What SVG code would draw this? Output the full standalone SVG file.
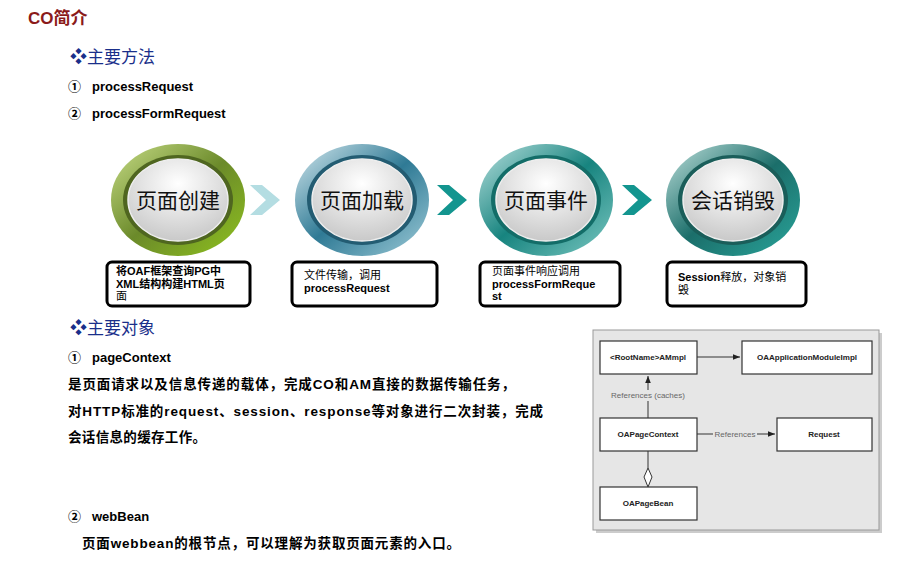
<svg xmlns="http://www.w3.org/2000/svg" width="923" height="577" viewBox="0 0 923 577">
<style>
.t{font-family:"Liberation Sans","Noto Sans CJK SC",sans-serif;font-weight:bold;fill:#000}
.h{font-family:"Liberation Sans","Noto Sans CJK SC",sans-serif;font-size:17px;fill:#1a2f8a}
.c{font-family:"Noto Sans CJK SC",sans-serif;font-size:21px;fill:#111;text-anchor:middle}
.box{fill:#fff;stroke:#000;stroke-width:3}
.u{fill:#fff;stroke:#333;stroke-width:1.2}
.ut{font-family:"Liberation Sans",sans-serif;font-size:8px;font-weight:bold;text-anchor:middle;fill:#222}
.ul{font-family:"Liberation Sans",sans-serif;font-size:8px;fill:#666}
.inner{fill:url(#gi);stroke:#eee;stroke-width:1.5}
</style>
<defs>
<linearGradient id="g1" x1="0" y1="0" x2="1" y2="1"><stop offset="0" stop-color="#c8dd88"/><stop offset="0.5" stop-color="#6b8a2a"/><stop offset="1" stop-color="#8fc21e"/></linearGradient>
<linearGradient id="g2" x1="0" y1="0" x2="1" y2="1"><stop offset="0" stop-color="#d4e8ee"/><stop offset="0.5" stop-color="#2f7a95"/><stop offset="1" stop-color="#9ecbd8"/></linearGradient>
<linearGradient id="g3" x1="0" y1="0" x2="1" y2="1"><stop offset="0" stop-color="#b8e0de"/><stop offset="0.5" stop-color="#17847f"/><stop offset="1" stop-color="#7cc8c2"/></linearGradient>
<linearGradient id="g4" x1="0" y1="0" x2="1" y2="1"><stop offset="0" stop-color="#bfe0dc"/><stop offset="0.5" stop-color="#1b6e6a"/><stop offset="1" stop-color="#2aa59b"/></linearGradient>
<radialGradient id="gi" cx="0.5" cy="0.3" r="0.7"><stop offset="0" stop-color="#ffffff"/><stop offset="1" stop-color="#c9c9c9"/></radialGradient>
<marker id="ar" viewBox="0 0 10 10" refX="10" refY="5" markerWidth="7" markerHeight="7" orient="auto"><path d="M0,1 L10,5 L0,9 z" fill="#222"/></marker>
</defs>
<text x="28" y="24" font-family="Liberation Sans,Noto Sans CJK SC,sans-serif" font-size="17" font-weight="bold" fill="#8b1a1a">CO简介</text>
<text x="70" y="63" class="h">❖主要方法</text>
<text y="91" class="t" font-size="13"><tspan x="68">①</tspan><tspan x="92">processRequest</tspan></text>
<text y="118" class="t" font-size="13"><tspan x="68">②</tspan><tspan x="92">processFormRequest</tspan></text>

<g id="n1"><ellipse cx="178" cy="200" rx="67" ry="56" fill="url(#g1)"/><ellipse cx="178" cy="200" rx="55" ry="45" fill="#4f6620"/><ellipse cx="178" cy="200" rx="50" ry="41" class="inner"/><text x="178" y="208" class="c">页面创建</text></g>
<g id="n2"><ellipse cx="362" cy="200" rx="67" ry="56" fill="url(#g2)"/><ellipse cx="362" cy="200" rx="55" ry="45" fill="#235c72"/><ellipse cx="362" cy="200" rx="50" ry="41" class="inner"/><text x="362" y="208" class="c">页面加载</text></g>
<g id="n3"><ellipse cx="546" cy="200" rx="67" ry="56" fill="url(#g3)"/><ellipse cx="546" cy="200" rx="55" ry="45" fill="#136d68"/><ellipse cx="546" cy="200" rx="50" ry="41" class="inner"/><text x="546" y="208" class="c">页面事件</text></g>
<g id="n4"><ellipse cx="733" cy="200" rx="67" ry="56" fill="url(#g4)"/><ellipse cx="733" cy="200" rx="55" ry="45" fill="#1a5e5a"/><ellipse cx="733" cy="200" rx="50" ry="41" class="inner"/><text x="733" y="208" class="c">会话销毁</text></g>
<g id="chev">
<path d="M250,185 L262,185 L280,200 L262,215 L250,215 L266,200 z" fill="#b4dde2"/>
<path d="M437,185 L449,185 L467,200 L449,215 L437,215 L453,200 z" fill="#13958f"/>
<path d="M622,185 L634,185 L652,200 L634,215 L622,215 L638,200 z" fill="#13958f"/>
</g>

<g id="b1"><rect x="107" y="262" width="143" height="44" rx="5" class="box"/>
<text class="t" font-size="11"><tspan x="116" y="275">将OAF框架查询PG中</tspan><tspan x="116" y="288">XML结构构建HTML页</tspan><tspan x="116" y="300" font-weight="normal">面</tspan></text></g>
<g id="b2"><rect x="292" y="262" width="145" height="44" rx="5" class="box"/>
<text class="t" font-size="11"><tspan x="304" y="279" font-weight="normal">文件传输，调用</tspan><tspan x="304" y="292">processRequest</tspan></text></g>
<g id="b3"><rect x="480" y="262" width="140" height="44" rx="5" class="box"/>
<text class="t" font-size="11"><tspan x="492" y="275" font-weight="normal">页面事件响应调用</tspan><tspan x="492" y="288">processFormReque</tspan><tspan x="492" y="300">st</tspan></text></g>
<g id="b4"><rect x="667" y="262" width="139" height="44" rx="5" class="box"/>
<text class="t" font-size="11"><tspan x="678" y="281">Session<tspan font-weight="normal">释放，对象销</tspan></tspan><tspan x="678" y="294" font-weight="normal">毁</tspan></text></g>

<text x="70" y="334" class="h">❖主要对象</text>
<text y="362" class="t" font-size="13"><tspan x="68">①</tspan><tspan x="92">pageContext</tspan></text>
<text x="68" y="389" class="t" font-size="13.5" textLength="447" lengthAdjust="spacing">是页面请求以及信息传递的载体，完成CO和AM直接的数据传输任务，</text>
<text x="68" y="416" class="t" font-size="13.5" textLength="475" lengthAdjust="spacing">对HTTP标准的request、session、response等对象进行二次封装，完成</text>
<text x="68" y="442" class="t" font-size="13.5" textLength="138" lengthAdjust="spacing">会话信息的缓存工作。</text>
<text y="521" class="t" font-size="13"><tspan x="68">②</tspan><tspan x="92">webBean</tspan></text>
<text x="82" y="548" class="t" font-size="13.5" textLength="378" lengthAdjust="spacing">页面webbean的根节点，可以理解为获取页面元素的入口。</text>

<rect x="596" y="333" width="286" height="200" fill="#999" opacity="0.5"/>
<rect x="593" y="330" width="286" height="200" fill="#e6e6e6" stroke="#999"/>
<g id="conn">
<line x1="697" y1="357" x2="740" y2="357" stroke="#333" marker-end="url(#ar)"/>
<line x1="648" y1="418" x2="648" y2="376" stroke="#333" marker-end="url(#ar)"/>
<rect x="606" y="390" width="84" height="11" fill="#e6e6e6"/>
<text x="648" y="398" class="ul" text-anchor="middle">References (caches)</text>
<line x1="697" y1="434" x2="775" y2="434" stroke="#333" marker-end="url(#ar)"/>
<rect x="713" y="428" width="44" height="11" fill="#e6e6e6"/>
<text x="735" y="437" class="ul" text-anchor="middle">References</text>
<line x1="648" y1="451" x2="648" y2="468" stroke="#333"/>
<path d="M648,468 L652,477 L648,487 L644,477 z" fill="#fff" stroke="#333"/>
</g>
<g id="u1"><rect x="600" y="341" width="97" height="33" class="u"/><text x="648" y="360" class="ut">&lt;RootName&gt;AMmpl</text></g>
<g id="u2"><rect x="742" y="341" width="130" height="33" class="u"/><text x="807" y="360" class="ut">OAApplicationModuleImpl</text></g>
<g id="u3"><rect x="600" y="418" width="97" height="33" class="u"/><text x="648" y="437" class="ut">OAPageContext</text></g>
<g id="u4"><rect x="777" y="418" width="95" height="33" class="u"/><text x="824" y="437" class="ut">Request</text></g>
<g id="u5"><rect x="600" y="487" width="97" height="33" class="u"/><text x="648" y="506" class="ut">OAPageBean</text></g>
</svg>
